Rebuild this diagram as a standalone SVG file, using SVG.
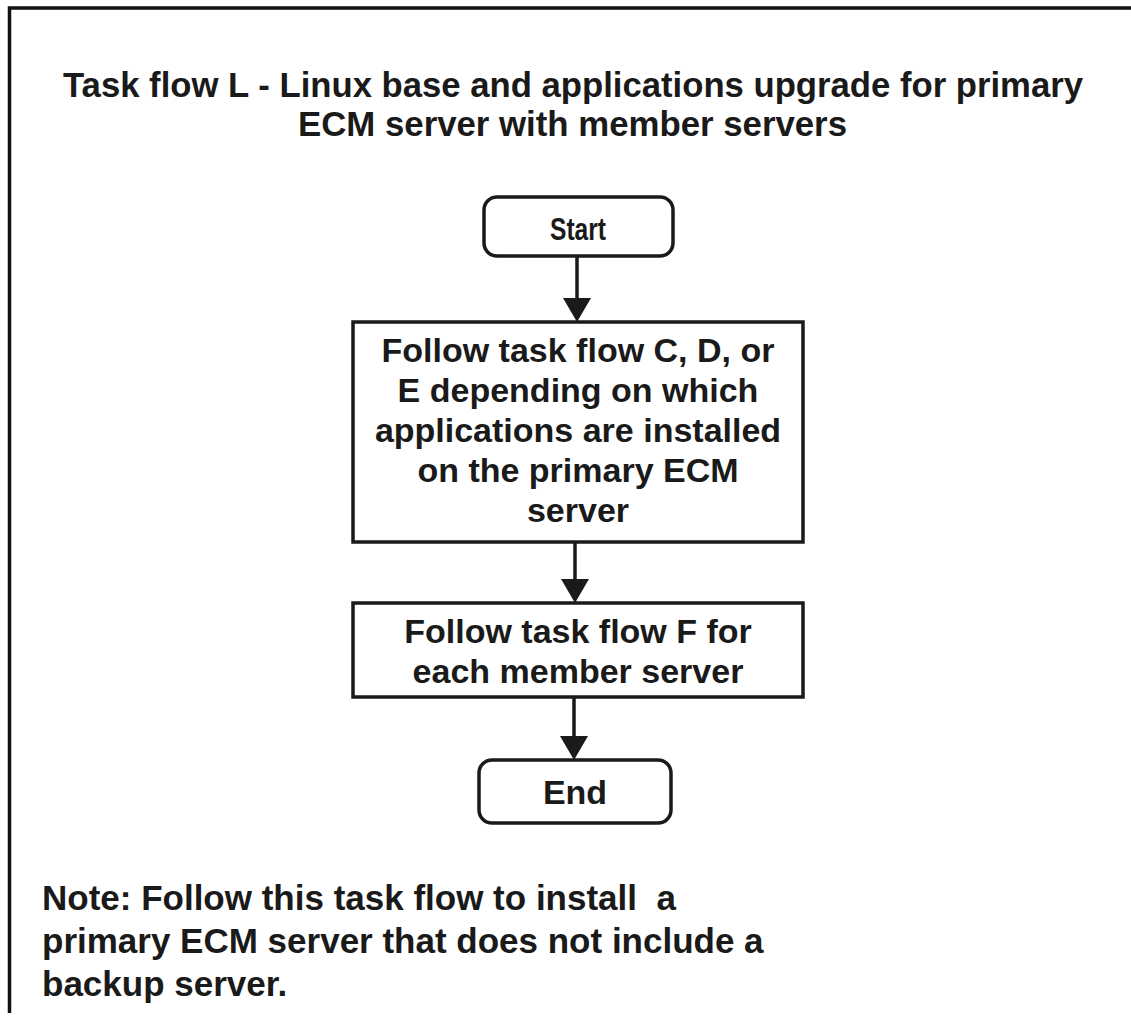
<svg xmlns="http://www.w3.org/2000/svg" width="1131" height="1036" viewBox="0 0 1131 1036">
  <defs>
    <style>
      .frame { fill: none; stroke: #111; stroke-width: 3.5; }
      .box { fill: #fff; stroke: #1a1a1a; stroke-width: 3.5; }
      .edge { fill: none; stroke: #1a1a1a; stroke-width: 3.5; }
      .t { font-family: "Liberation Sans", Arial, Helvetica, sans-serif; font-weight: bold; fill: #1a1a1a; }
      .title { font-size: 35px; }
      .body { font-size: 34px; text-anchor: middle; }
      .cond { font-size: 31px; text-anchor: middle; }
      .note { font-size: 35px; }
    </style>
    <marker id="arrow" viewBox="0 0 24 28" refX="0" refY="14" markerWidth="24" markerHeight="28" markerUnits="userSpaceOnUse" orient="auto">
      <path d="M0,0 L24,14 L0,28 Z" fill="#1a1a1a"/>
    </marker>
  </defs>
  <rect width="1131" height="1036" fill="#fff"/>

  <g id="frame">
    <polyline class="frame" points="9.5,1013 9.5,8 1131,8"/>
  </g>

  <g id="title">
    <text class="t title" x="63" y="97" textLength="1020" lengthAdjust="spacingAndGlyphs">Task flow L - Linux base and applications upgrade for primary</text>
    <text class="t title" x="298" y="136" textLength="549" lengthAdjust="spacingAndGlyphs">ECM server with member servers</text>
  </g>

  <g id="connectors">
    <line class="edge" x1="577" y1="256" x2="577" y2="298" marker-end="url(#arrow)"/>
    <line class="edge" x1="575" y1="542" x2="575" y2="579" marker-end="url(#arrow)"/>
    <line class="edge" x1="574" y1="697" x2="574" y2="736" marker-end="url(#arrow)"/>
  </g>

  <g id="start">
    <rect class="box" x="484" y="197" width="189" height="59" rx="13" ry="13"/>
    <text class="t cond" x="578" y="240" textLength="56" lengthAdjust="spacingAndGlyphs">Start</text>
  </g>

  <g id="step1">
    <rect class="box" x="353" y="322" width="450" height="220"/>
    <text class="t body" x="578" y="362">Follow task flow C, D, or</text>
    <text class="t body" x="578" y="402">E depending on which</text>
    <text class="t body" x="578" y="442">applications are installed</text>
    <text class="t body" x="578" y="482">on the primary ECM</text>
    <text class="t body" x="578" y="522">server</text>
  </g>

  <g id="step2">
    <rect class="box" x="353" y="603" width="450" height="94"/>
    <text class="t body" x="578" y="643">Follow task flow F for</text>
    <text class="t body" x="578" y="683">each member server</text>
  </g>

  <g id="end">
    <rect class="box" x="479" y="760" width="192" height="63" rx="13" ry="13"/>
    <text class="t body" x="575" y="804">End</text>
  </g>

  <g id="note">
    <text class="t note" x="42" y="910" xml:space="preserve">Note: Follow this task flow to install  a</text>
    <text class="t note" x="42" y="953">primary ECM server that does not include a</text>
    <text class="t note" x="42" y="996">backup server.</text>
  </g>
</svg>
